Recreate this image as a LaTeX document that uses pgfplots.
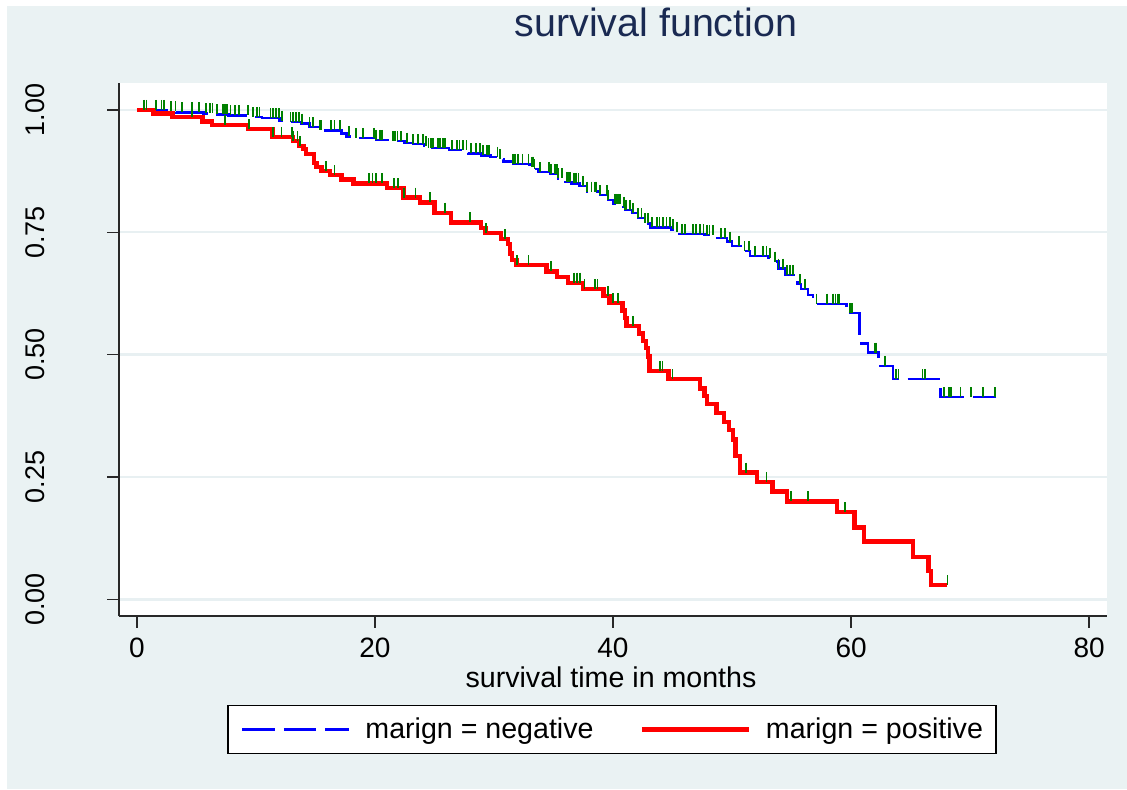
\documentclass[border=0pt]{standalone}
\usepackage{fontspec}
\setmainfont{Liberation Sans}
\usepackage{pgfplots}
\pgfplotsset{compat=1.18}

\definecolor{bgc}{RGB}{234,242,243}
\definecolor{gridc}{RGB}{232,240,242}
\definecolor{titlec}{RGB}{26,42,82}
\definecolor{cgreen}{RGB}{0,128,0}
\definecolor{axc}{RGB}{40,40,40}

\begin{document}
\begin{tikzpicture}
\fill[white] (-59.5pt,-86.5pt) rectangle (504pt,308pt);
\fill[bgc] (-56pt,-86.5pt) rectangle (504pt,305pt);
\begin{axis}[
    scale only axis,
    width=494pt, height=266.5pt,
    xmin=-1.5, xmax=81.5,
    ymin=-0.034, ymax=1.055,
    axis background/.style={fill=white},
    axis x line*=bottom, axis y line*=left,
    axis line style={-, axc, line width=0.7pt},
    tick align=outside,
    major tick length=5.8pt,
    every tick/.style={axc, line width=0.7pt},
    xtick={0,20,40,60,80},
    ytick={0,0.25,0.5,0.75,1},
    ymajorgrids,
    grid style={gridc, line width=1.2pt},
    /pgf/number format/.cd, fixed, fixed zerofill, precision=2, assume math mode=true,
    /pgfplots/.cd,
    xticklabel style={font=\fontsize{14}{16}\selectfont, anchor=north, inner sep=0pt, yshift=-5pt,
        /pgf/number format/precision=0, /pgf/number format/fixed zerofill=false},
    yticklabel style={font=\fontsize{13.5}{16}\selectfont, rotate=90, anchor=south, inner sep=0pt, yshift=31pt},
    xlabel={survival time in months},
    xlabel style={font=\fontsize{14.3}{16}\selectfont, at={(axis description cs:0.498,-0.134)}, anchor=base, inner sep=0pt},
    title={survival function},
    title style={font=\fontsize{19.7}{22}\selectfont, text=titlec, at={(axis description cs:0.5435,1.0857)}, anchor=base, inner sep=0pt, yshift=-5.5pt},
    legend columns=2,
    legend image code/.code={\draw[#1] (0pt,0pt) -- (53.5pt,0pt);},
    legend style={at={(axis description cs:0.499,-0.167)}, anchor=north,
        draw=black, line width=0.6pt, fill=white,
        inner xsep=6.5pt, inner ysep=5pt,
        font=\fontsize{14.3}{16}\selectfont,
        nodes={inner xsep=0pt, inner ysep=1pt},
        /tikz/every odd column/.append style={column sep=7.5pt},
        /tikz/every even column/.append style={column sep=23pt}},
]
% margin negative
\addplot[const plot, blue, line width=1.2pt, dash pattern=on 16.3pt off 4.5pt] coordinates {
(0,1.000) (2.5,0.997) (3.3,0.995) (5.6,0.993) (6.6,0.991) (7.7,0.989) (9.7,0.986) (10.5,0.983)
(12.0,0.978) (12.7,0.975) (13.8,0.972) (14.5,0.965) (15.4,0.958) (17.2,0.952) (17.6,0.946)
(18.3,0.943) (20.1,0.939) (21.5,0.936) (22.5,0.933) (23.2,0.930) (24.1,0.926) (24.5,0.922)
(26.2,0.918) (27.8,0.911) (28.9,0.907) (29.7,0.904) (30.4,0.899) (30.8,0.895) (31.6,0.890)
(32.97,0.884) (33.4,0.879) (33.7,0.873) (34.7,0.869) (35.4,0.860) (36.0,0.853) (36.5,0.850)
(37.2,0.845) (37.8,0.833) (38.9,0.826) (39.6,0.816) (40.0,0.808) (40.7,0.802) (41.0,0.796)
(41.6,0.789) (42.1,0.779) (42.6,0.768) (43.1,0.760) (44.9,0.756) (45.3,0.751) (45.6,0.746)
(47.7,0.744) (48.6,0.738) (49.6,0.731) (50.0,0.722) (50.7,0.712) (51.5,0.702) (53.0,0.697)
(53.5,0.690) (53.9,0.676) (54.5,0.663) (55.3,0.653) (55.5,0.644) (55.8,0.634) (56.4,0.622)
(56.8,0.604) (59.6,0.585) (60.7,0.523) (61.4,0.504) (62.3,0.477) (63.5,0.450) (67.5,0.413)
(72.2,0.413)};
\addlegendentry{marign = negative}
% margin positive
\addplot[const plot, red, line width=2.2pt] coordinates {
(0,1.000) (1.4,0.993) (3.0,0.985) (5.5,0.976) (6.3,0.969) (9.35,0.961) (11.4,0.945) (13.1,0.937)
(13.6,0.926) (14.0,0.920) (14.2,0.910) (14.9,0.892) (15.1,0.884) (15.5,0.875) (16.25,0.867)
(17.2,0.858) (18.2,0.850) (21.0,0.840) (22.4,0.821) (23.8,0.811) (25.0,0.790) (26.4,0.770)
(28.9,0.759) (29.3,0.748) (30.6,0.736) (31.2,0.726) (31.35,0.707) (31.5,0.693) (31.9,0.683)
(34.4,0.670) (35.3,0.659) (36.2,0.647) (37.5,0.634) (39.2,0.620) (39.7,0.605) (40.8,0.590)
(41.0,0.575) (41.15,0.559) (42.2,0.543) (42.5,0.528) (42.75,0.513) (42.95,0.496) (43.05,0.467)
(44.65,0.450) (47.3,0.431) (47.7,0.415) (47.9,0.399) (48.7,0.381) (49.3,0.363) (49.75,0.346)
(50.08,0.327) (50.3,0.293) (50.66,0.259) (52.1,0.240) (53.4,0.220) (54.6,0.200) (58.8,0.178)
(60.3,0.147) (61.1,0.118) (65.2,0.087) (66.5,0.058) (66.7,0.029) (68.1,0.029)};
\addlegendentry{marign = positive}
% censored, negative
\addplot[forget plot, only marks, mark=|, mark size=2.5pt,
    mark options={draw=cgreen, line width=0.9pt, yshift=2.5pt}] coordinates {
(0.59,1.0) (0.81,1.0) (1.6,1.0) (2.07,1.0) (2.3,1.0) (2.86,0.997) (3.25,0.997) (3.8,0.995)
(4.65,0.995) (5.24,0.995) (5.8,0.993) (6.13,0.993) (6.36,0.993) (6.7,0.991) (7.25,0.991)
(7.39,0.991) (7.54,0.991) (7.87,0.989) (8.24,0.989) (8.6,0.989) (9.35,0.989) (9.78,0.986)
(10.1,0.986) (10.3,0.986) (11.23,0.983) (11.46,0.983) (11.68,0.983) (11.96,0.983) (12.2,0.978)
(12.9,0.975) (13.1,0.975) (13.4,0.975) (13.6,0.975) (13.9,0.972) (14.5,0.965) (14.8,0.965)
(15.4,0.958) (15.5,0.958) (16.3,0.958) (16.6,0.958) (17.06,0.958) (17.8,0.946) (18.4,0.943)
(18.97,0.943) (19.9,0.943) (20.1,0.939) (20.4,0.939) (20.6,0.939) (21.5,0.936) (21.7,0.936)
(21.9,0.936) (22.2,0.936) (22.7,0.933) (23.2,0.930) (23.6,0.930) (24.06,0.930) (24.3,0.926)
(24.5,0.922) (24.7,0.922) (24.9,0.922) (25.3,0.922) (25.5,0.922) (25.7,0.922) (25.9,0.922)
(26.5,0.918) (26.9,0.918) (27.1,0.918) (27.4,0.918) (27.7,0.918) (28.1,0.911) (28.5,0.911)
(28.8,0.911) (29.1,0.907) (29.4,0.907) (29.6,0.907) (30.3,0.904) (30.5,0.899) (31.6,0.890)
(31.8,0.890) (32.0,0.890) (32.4,0.890) (32.9,0.890) (33.2,0.884) (33.3,0.884) (33.4,0.879)
(33.9,0.873) (34.6,0.873) (34.8,0.869) (35.1,0.869) (35.3,0.869) (35.4,0.860) (35.7,0.860)
(36.1,0.853) (36.2,0.853) (36.4,0.853) (36.7,0.850) (36.9,0.850) (37.1,0.850) (37.5,0.845)
(37.8,0.833) (38.2,0.833) (38.5,0.833) (38.6,0.833) (38.9,0.826) (39.5,0.826) (39.6,0.816)
(40.2,0.808) (40.3,0.808) (40.4,0.808) (40.6,0.808) (40.9,0.802) (41.0,0.796) (41.1,0.796)
(41.4,0.796) (41.7,0.789) (42.1,0.779) (42.4,0.779) (42.7,0.768) (42.97,0.768) (43.25,0.760)
(43.7,0.760) (43.9,0.760) (44.2,0.760) (44.5,0.760) (44.8,0.760) (45.07,0.756) (45.35,0.751)
(45.8,0.746) (46.05,0.746) (46.75,0.746) (47.0,0.746) (47.3,0.746) (47.6,0.746) (47.9,0.744)
(48.1,0.744) (48.4,0.744) (49.1,0.738) (49.4,0.738) (49.8,0.731) (50.6,0.722) (51.04,0.712)
(51.4,0.712) (51.9,0.702) (52.6,0.702) (52.9,0.702) (53.2,0.697) (53.6,0.690) (53.9,0.676)
(54.3,0.676) (54.6,0.663) (54.9,0.663) (55.1,0.663) (55.7,0.644) (56.1,0.634) (57.1,0.604)
(57.95,0.604) (58.5,0.604) (58.7,0.604) (58.9,0.604) (59.0,0.604) (59.9,0.585) (60.05,0.585)
(62.0,0.504) (62.1,0.504) (62.8,0.477) (62.9,0.477) (63.8,0.450) (63.98,0.450) (66.0,0.450)
(66.2,0.450) (67.8,0.413) (68.2,0.413) (68.4,0.413) (69.2,0.413) (70.1,0.413) (71.07,0.413)
(72.1,0.413)};
% censored, positive
\addplot[forget plot, only marks, mark=|, mark size=2.5pt,
    mark options={draw=cgreen, line width=0.9pt, yshift=2.5pt}] coordinates {
(4.6,0.985) (7.4,0.969) (9.4,0.961) (11.45,0.945) (12.15,0.945) (13.0,0.945) (13.15,0.937)
(13.5,0.937) (13.7,0.926) (15.9,0.875) (16.6,0.867) (19.5,0.850) (19.8,0.850) (20.1,0.850)
(20.6,0.850) (21.6,0.840) (21.96,0.840) (22.45,0.821) (23.4,0.821) (24.6,0.811) (25.9,0.790)
(28.0,0.770) (29.35,0.748) (30.9,0.736) (31.95,0.683) (32.9,0.683) (34.8,0.670) (36.7,0.647)
(37.0,0.647) (37.2,0.647) (37.6,0.634) (38.5,0.634) (38.7,0.634) (39.6,0.620) (40.0,0.605)
(40.45,0.605) (41.7,0.559) (43.95,0.467) (44.15,0.467) (45.0,0.450) (51.2,0.259) (52.9,0.240)
(54.96,0.200) (56.4,0.200) (59.5,0.178) (68.1,0.029)};
\end{axis}
\pgfresetboundingbox
\path[use as bounding box] (-59.5pt,-86.5pt) rectangle (504pt,308pt);
\end{tikzpicture}
\end{document}
